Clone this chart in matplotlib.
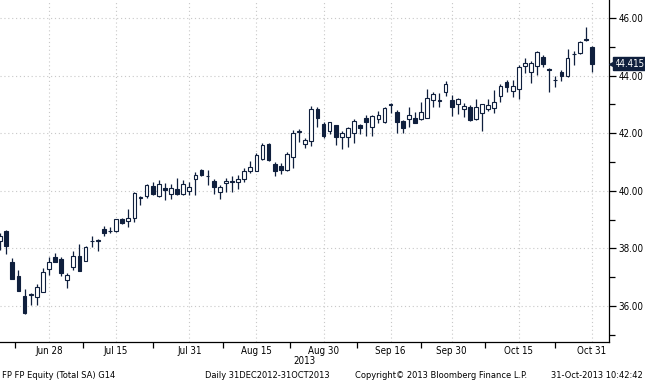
import matplotlib
matplotlib.use('Agg')
import matplotlib.pyplot as plt
import matplotlib.transforms as mtransforms
from matplotlib.patches import Rectangle
import numpy as np

# ---------------- data ----------------
dates = ['06-18', '06-19', '06-20', '06-21', '06-24', '06-25', '06-26', '06-27', '06-28',
         '07-01', '07-02', '07-03', '07-04', '07-05', '07-08', '07-09', '07-10', '07-11', '07-12',
         '07-15', '07-16', '07-17', '07-18', '07-19', '07-22', '07-23', '07-24', '07-25', '07-26',
         '07-29', '07-30', '07-31', '08-01', '08-02', '08-05', '08-06', '08-07', '08-08', '08-09',
         '08-12', '08-13', '08-14', '08-15', '08-16', '08-19', '08-20', '08-21', '08-22', '08-23',
         '08-26', '08-27', '08-28', '08-29', '08-30', '09-02', '09-03', '09-04', '09-05', '09-06',
         '09-09', '09-10', '09-11', '09-12', '09-13', '09-16', '09-17', '09-18', '09-19', '09-20',
         '09-23', '09-24', '09-25', '09-26', '09-27', '09-30', '10-01', '10-02', '10-03', '10-04',
         '10-07', '10-08', '10-09', '10-10', '10-11', '10-14', '10-15', '10-16', '10-17', '10-18',
         '10-21', '10-22', '10-23', '10-24', '10-25', '10-28', '10-29', '10-30', '10-31']

opens = [38.26, 38.61, 37.54, 37.04, 36.35, 36.38, 36.30, 36.50, 37.27,
         37.71, 37.63, 36.90, 37.36, 37.75, 37.57, 38.24, 38.24, 38.67, 38.60,
         38.61, 39.02, 38.95, 39.05, 39.74, 39.82, 40.17, 39.82, 40.09, 39.88,
         40.05, 39.88, 39.99, 40.41, 40.72, 40.53, 40.34, 39.95, 40.28, 40.34,
         40.30, 40.41, 40.69, 40.70, 41.10, 41.63, 40.92, 40.87, 40.72, 41.18,
         42.03, 41.64, 41.73, 42.83, 42.32, 42.08, 42.28, 41.88, 41.88, 42.00,
         42.28, 42.52, 42.23, 42.48, 42.40, 43.03, 42.75, 42.42, 42.48, 42.52,
         42.49, 42.54, 43.15, 43.13, 43.42, 43.16, 43.00, 42.84, 42.92, 42.48,
         42.71, 42.84, 42.86, 43.29, 43.79, 43.48, 43.53, 44.33, 44.11, 44.33,
         44.66, 44.24, 43.84, 44.11, 43.99, 44.74, 44.77, 45.26, 45.00]

highs = [38.53, 38.64, 37.66, 37.25, 36.58, 36.44, 36.76, 37.33, 37.71,
         37.83, 37.71, 37.16, 37.92, 38.14, 38.10, 38.43, 38.32, 38.79, 38.76,
         39.03, 39.06, 39.36, 39.97, 39.82, 40.22, 40.32, 40.38, 40.26, 40.24,
         40.43, 40.38, 40.32, 40.66, 40.77, 40.72, 40.40, 40.20, 40.43, 40.51,
         40.55, 40.78, 41.03, 41.30, 41.67, 41.65, 41.00, 40.96, 41.36, 42.10,
         42.15, 41.85, 42.94, 42.92, 42.40, 42.40, 42.30, 42.06, 42.20, 42.48,
         42.32, 42.63, 42.63, 42.78, 42.92, 43.04, 42.81, 42.47, 42.92, 42.75,
         43.09, 43.52, 43.42, 43.39, 43.82, 43.33, 43.22, 43.06, 42.98, 43.18,
         43.02, 43.18, 43.50, 43.70, 43.85, 43.85, 44.37, 44.60, 44.50, 44.84,
         44.72, 44.25, 44.00, 44.19, 44.91, 44.86, 45.20, 45.70, 45.02]

lows = [37.94, 37.81, 36.94, 36.53, 35.72, 36.03, 36.03, 36.48, 37.08,
        37.52, 37.04, 36.64, 37.25, 37.20, 37.55, 38.04, 37.92, 38.43, 38.53,
        38.58, 38.85, 38.76, 38.93, 39.51, 39.75, 39.86, 39.80, 39.68, 39.70,
        39.86, 39.86, 39.85, 39.85, 40.50, 40.20, 39.88, 39.70, 39.97, 39.97,
        40.06, 40.32, 40.62, 40.68, 41.07, 41.03, 40.51, 40.58, 40.70, 40.80,
        41.71, 41.50, 41.56, 42.23, 41.82, 41.96, 41.59, 41.44, 41.51, 41.65,
        41.97, 41.90, 41.90, 42.34, 42.34, 42.69, 42.02, 42.00, 42.23, 42.34,
        42.47, 42.52, 42.92, 42.92, 43.29, 42.60, 42.65, 42.57, 42.44, 42.46,
        42.09, 42.77, 42.71, 43.09, 43.44, 43.25, 43.19, 44.08, 43.73, 44.02,
        44.31, 43.44, 43.62, 43.82, 43.94, 44.37, 44.74, 45.20, 44.14]

closes = [38.43, 38.09, 36.94, 36.53, 35.75, 36.40, 36.65, 37.17, 37.54,
          37.54, 37.16, 37.08, 37.75, 37.22, 38.06, 38.27, 38.30, 38.52, 38.62,
          39.01, 38.87, 39.07, 39.91, 39.79, 40.20, 39.89, 40.23, 40.03, 40.11,
          39.88, 40.23, 40.12, 40.55, 40.55, 40.50, 40.14, 40.12, 40.34, 40.30,
          40.41, 40.69, 40.84, 41.24, 41.59, 41.07, 40.70, 40.72, 41.28, 42.01,
          42.06, 41.75, 42.83, 42.54, 41.90, 42.40, 41.86, 42.00, 42.17, 42.43,
          42.17, 42.40, 42.60, 42.63, 42.86, 42.98, 42.40, 42.17, 42.63, 42.37,
          42.73, 43.21, 43.35, 43.16, 43.71, 42.91, 43.18, 42.94, 42.46, 42.90,
          43.00, 42.98, 43.07, 43.65, 43.62, 43.65, 44.31, 44.43, 44.45, 44.81,
          44.40, 44.20, 43.86, 44.00, 44.60, 44.76, 45.16, 45.22, 44.415]

tick_dates = ['06-28', '07-15', '07-31', '08-15', '08-30', '09-16', '09-30', '10-15', '10-31']
tick_labels = ['Jun 28', 'Jul 15', 'Jul 31', 'Aug 15', 'Aug 30', 'Sep 16', 'Sep 30', 'Oct 15', 'Oct 31']
y_ticks = [36, 38, 40, 42, 44, 46]
last_price = closes[-1]

# ---------------- style ----------------
NAVY = '#0f1f3d'
GRID = '#c8c8c8'
FONT = 'DejaVu Sans'
STRETCH = 'condensed'

fig = plt.figure(figsize=(6.45, 3.80), dpi=100)
ax = fig.add_axes([0.0, 38 / 380, 609 / 645, 342 / 380])

x = np.arange(len(dates))
body_w = 0.62
for xi, o, h, l, c in zip(x, opens, highs, lows, closes):
    ax.vlines(xi, l, h, color=NAVY, lw=0.9, zorder=2)
    bottom = min(o, c)
    height = max(abs(c - o), 0.005)
    up = c >= o
    rect = Rectangle((xi - body_w / 2, bottom), body_w, height,
                     facecolor='white' if up else NAVY,
                     edgecolor=NAVY, lw=0.8, zorder=3)
    ax.add_patch(rect)

ax.set_xlim(-0.03, 99.8)
ax.set_ylim(34.75, 46.625)

tick_pos = [dates.index(d) for d in tick_dates]
ax.set_xticks(tick_pos)
ax.set_xticklabels(tick_labels)
minor_x = [2.5] + [(a + b) / 2 for a, b in zip(tick_pos[:-1], tick_pos[1:])]
ax.set_xticks(minor_x, minor=True)
ax.set_yticks(y_ticks)
ax.set_yticklabels(['%.2f' % v for v in y_ticks])
ax.set_yticks(np.arange(35, 47, 2), minor=True)

ax.grid(True, which='major', color=GRID, linestyle=(0, (1, 2.5)), lw=0.8, zorder=0)

ax.yaxis.tick_right()
for s in ['left', 'top']:
    ax.spines[s].set_visible(False)
for s in ['right', 'bottom']:
    ax.spines[s].set_color('black')
    ax.spines[s].set_linewidth(0.9)

ax.tick_params(axis='y', which='major', length=5, width=0.9, labelsize=7, pad=2, colors='black')
ax.tick_params(axis='y', which='minor', length=4, width=0.9, right=True, left=False)
ax.tick_params(axis='x', which='major', length=0, labelsize=7, pad=3)
ax.tick_params(axis='x', which='minor', length=4, width=0.9, bottom=True)
for lab in ax.get_xticklabels() + ax.get_yticklabels():
    lab.set_family(FONT)
    lab.set_stretch(STRETCH)

# last price marker
trans = mtransforms.blended_transform_factory(ax.transAxes, ax.transData)
ax.plot([1.0], [last_price], marker='<', markersize=5, color=NAVY,
        transform=mtransforms.offset_copy(trans, fig=fig, x=2.5, y=0, units='points'),
        clip_on=False, zorder=5)
ax.annotate('%.3f' % last_price, xy=(1.0, last_price), xycoords=trans,
            xytext=(4.2, 0), textcoords='offset points', va='center', ha='left',
            fontsize=7, color='white', family=FONT, stretch=STRETCH, annotation_clip=False,
            bbox=dict(boxstyle='square,pad=0.15', fc=NAVY, ec=NAVY))

# footer
ft = dict(fontsize=6.7, va='center', family=FONT, stretch=STRETCH)
fig.text(305 / 645, 1 - 361 / 380, '2013', ha='center', **{**ft, 'fontsize': 7})
fig.text(2 / 645, 1 - 375 / 380, 'FP FP Equity (Total SA) G14', ha='left', **ft)
fig.text(205 / 645, 1 - 375 / 380, 'Daily 31DEC2012-31OCT2013', ha='left', **ft)
fig.text(355 / 645, 1 - 375 / 380, 'Copyright\u00a9 2013 Bloomberg Finance L.P.', ha='left', **ft)
fig.text(643 / 645, 1 - 375 / 380, '31-Oct-2013 10:42:42', ha='right', **ft)

fig.savefig('out.png', dpi=100, facecolor='white')
